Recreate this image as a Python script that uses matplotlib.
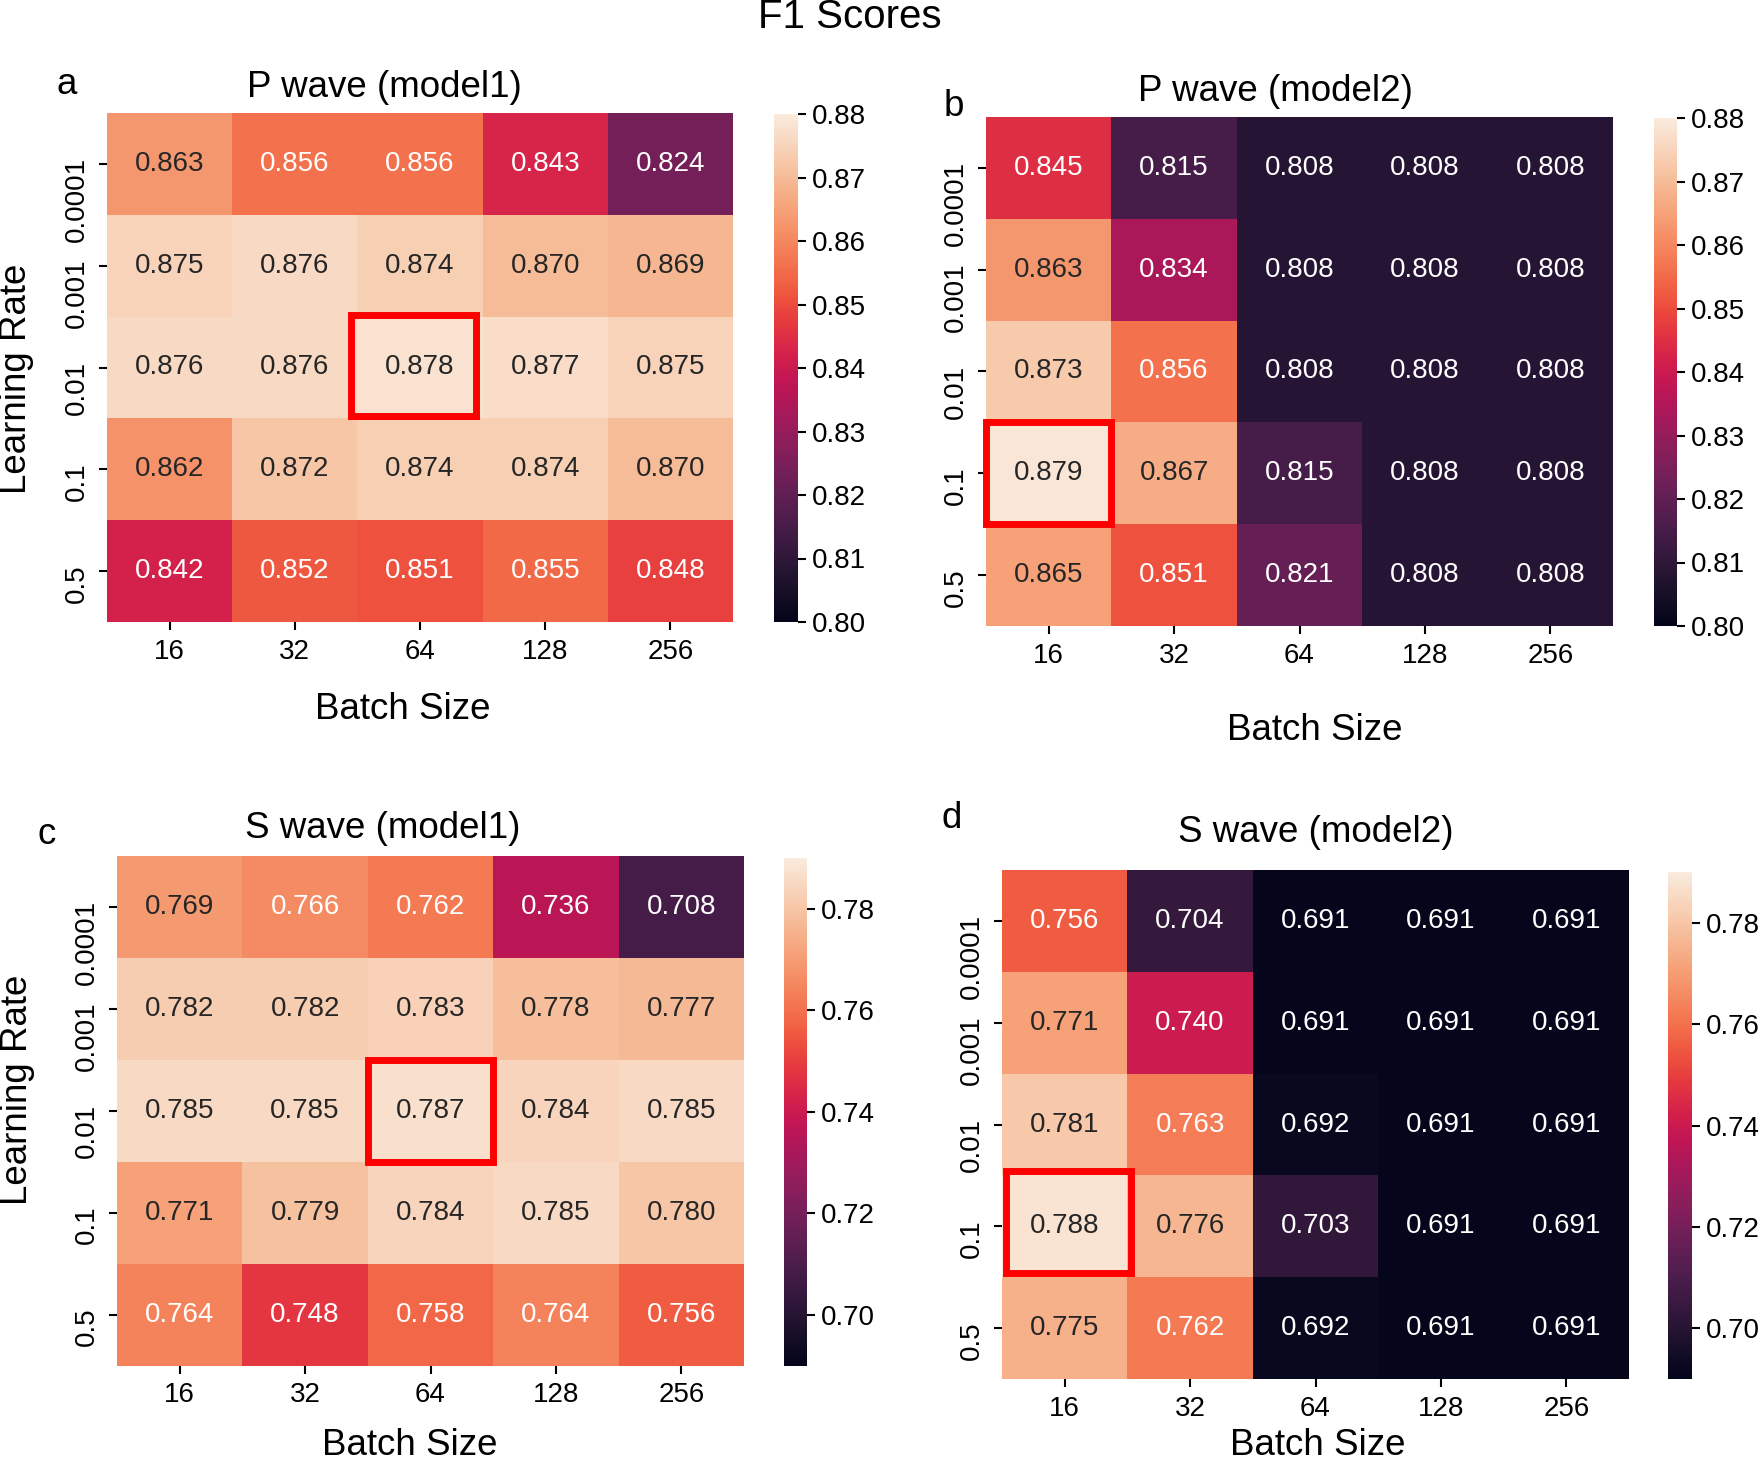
import matplotlib
matplotlib.use("Agg")
import matplotlib.pyplot as plt
import matplotlib.transforms as mtransforms
import numpy as np
import seaborn as sns
from matplotlib.patches import Rectangle
from matplotlib.ticker import FormatStrFormatter

plt.rcParams["font.family"] = ["Liberation Sans", "DejaVu Sans"]

# ---- Data ----
batch_sizes = [16, 32, 64, 128, 256]
learning_rates = ["0.0001", "0.001", "0.01", "0.1", "0.5"]

p_model1 = [
    [0.863, 0.856, 0.856, 0.843, 0.824],
    [0.875, 0.876, 0.874, 0.870, 0.869],
    [0.876, 0.876, 0.878, 0.877, 0.875],
    [0.862, 0.872, 0.874, 0.874, 0.870],
    [0.842, 0.852, 0.851, 0.855, 0.848],
]
p_model2 = [
    [0.845, 0.815, 0.808, 0.808, 0.808],
    [0.863, 0.834, 0.808, 0.808, 0.808],
    [0.873, 0.856, 0.808, 0.808, 0.808],
    [0.879, 0.867, 0.815, 0.808, 0.808],
    [0.865, 0.851, 0.821, 0.808, 0.808],
]
s_model1 = [
    [0.769, 0.766, 0.762, 0.736, 0.708],
    [0.782, 0.782, 0.783, 0.778, 0.777],
    [0.785, 0.785, 0.787, 0.784, 0.785],
    [0.771, 0.779, 0.784, 0.785, 0.780],
    [0.764, 0.748, 0.758, 0.764, 0.756],
]
s_model2 = [
    [0.756, 0.704, 0.691, 0.691, 0.691],
    [0.771, 0.740, 0.691, 0.691, 0.691],
    [0.781, 0.763, 0.692, 0.691, 0.691],
    [0.788, 0.776, 0.703, 0.691, 0.691],
    [0.775, 0.762, 0.692, 0.691, 0.691],
]

p_ticks = [0.80, 0.81, 0.82, 0.83, 0.84, 0.85, 0.86, 0.87, 0.88]
s_ticks = [0.70, 0.72, 0.74, 0.76, 0.78]

# ---- Layout (pixel boxes in the 1765x1461 canvas) ----
W, H = 1765, 1461


def box(l, t, r, b):
    return [l / W, 1 - b / H, (r - l) / W, (b - t) / H]


panels = [
    dict(letter="a", data=p_model1, title="P wave (model1)", vmin=0.80, vmax=0.88,
         ticks=p_ticks, best=(2, 2), best_shift=(-0.05, -0.02),
         ax=box(107, 113, 733, 622), cax=box(774, 114, 797.5, 622),
         letter_xy=(67, 84), title_xy=(0.4425, 1.050), xlabel_xy=(0.473, -0.172),
         ylabel=(-0.144, 0.477)),
    dict(letter="b", data=p_model2, title="P wave (model2)", vmin=0.80, vmax=0.88,
         ticks=p_ticks, best=(3, 0), best_shift=(0.0, 0.0),
         ax=box(986, 117, 1613, 626), cax=box(1654, 118, 1677, 626),
         letter_xy=(954, 107), title_xy=(0.4617, 1.050), xlabel_xy=(0.524, -0.205),
         ylabel=None),
    dict(letter="c", data=s_model1, title="S wave (model1)", vmin=0.690, vmax=0.790,
         ticks=s_ticks, best=(2, 2), best_shift=(0.0, 0.0),
         ax=box(117, 855.5, 744, 1365.5), cax=box(784.5, 858, 807, 1365.5),
         letter_xy=(47, 834), title_xy=(0.4238, 1.052), xlabel_xy=(0.467, -0.157),
         ylabel=(-0.159, 0.541)),
    dict(letter="d", data=s_model2, title="S wave (model2)", vmin=0.690, vmax=0.790,
         ticks=s_ticks, best=(3, 0), best_shift=(0.03, -0.04),
         ax=box(1002, 870, 1629, 1379), cax=box(1668, 872, 1692, 1379),
         letter_xy=(952, 818), title_xy=(0.5008, 1.073), xlabel_xy=(0.504, -0.131),
         ylabel=None),
]

fig = plt.figure(figsize=(W / 100, H / 100), dpi=100)
cmap = sns.color_palette("rocket", as_cmap=True)
nudge_up = mtransforms.ScaledTranslation(0, 7 / 100, fig.dpi_scale_trans)

for p in panels:
    ax = fig.add_axes(p["ax"])
    cax = fig.add_axes(p["cax"])
    sns.heatmap(np.array(p["data"]), ax=ax, cbar_ax=cax, cmap=cmap,
                vmin=p["vmin"], vmax=p["vmax"], annot=True, fmt=".3f",
                annot_kws={"size": 20},
                xticklabels=batch_sizes, yticklabels=learning_rates)

    ax.set_xticklabels([str(b) for b in batch_sizes], rotation=0, fontsize=20)
    ax.set_yticklabels(learning_rates, rotation=90, va="top", fontsize=20)
    ax.tick_params(axis="both", length=6, width=1.5, pad=6)
    for lab in ax.get_yticklabels():
        lab.set_transform(lab.get_transform() + nudge_up)

    tx, ty = p["title_xy"]
    ax.text(tx, ty, p["title"], transform=ax.transAxes, fontsize=26.5,
            ha="center", va="center")
    ax.set_xlabel("Batch Size", fontsize=26.5)
    ax.xaxis.set_label_coords(*p["xlabel_xy"])
    ax.xaxis.label.set_va("center")
    if p["ylabel"] is not None:
        ax.set_ylabel("Learning Rate", fontsize=26.5)
        ax.yaxis.set_label_coords(*p["ylabel"])
        ax.yaxis.label.set_va("center")

    # highlight the best cell
    row, col = p["best"]
    dx, dy = p["best_shift"]
    ax.add_patch(Rectangle((col + dx, row + dy), 1, 1, fill=False, edgecolor="red",
                           linewidth=5, clip_on=False, zorder=5))

    cbar = ax.collections[0].colorbar
    cbar.set_ticks(p["ticks"])
    cbar.ax.yaxis.set_major_formatter(FormatStrFormatter("%.2f"))
    cbar.ax.tick_params(labelsize=20, length=6, width=1.5, pad=4)

    lx, ly = p["letter_xy"]
    fig.text(lx / W, 1 - ly / H, p["letter"], fontsize=26.5, ha="center", va="center")

fig.text(850 / W, 1 - 17 / H, "F1 Scores", fontsize=29, ha="center", va="center")

fig.savefig("out.png", dpi=100)
